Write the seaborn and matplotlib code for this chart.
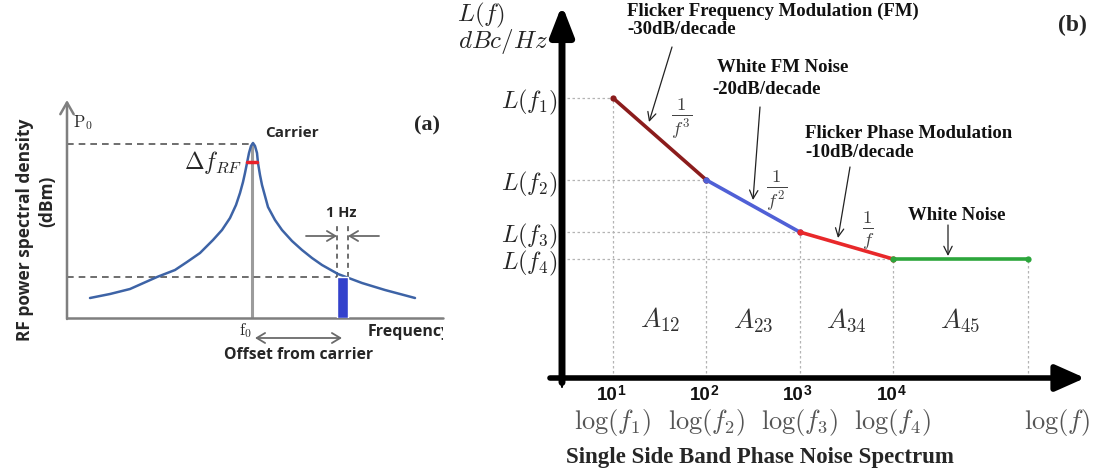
import numpy as np
import pandas as pd
import matplotlib
matplotlib.use("Agg")
import matplotlib.pyplot as plt
import seaborn as sns
from matplotlib.transforms import Bbox, TransformedBbox, IdentityTransform, offset_copy
from matplotlib.ticker import NullLocator

# ---------------- data: panel (a) RF spectrum ----------------
offset_left = [23, 43, 63, 90, 108, 120, 133, 146, 155, 163, 169, 173, 176, 178,
               180, 182, 184]
psd_left = [20, 24, 29, 41, 48, 56, 65, 78, 88, 100, 113, 125, 136, 145, 155,
            165, 172]
offset_right = [186, 188, 190, 191, 193, 195, 198, 201, 208, 215, 225, 235, 245,
                255, 271, 295, 318, 348]
psd_right = [175, 172, 165, 155, 143, 133, 122, 111, 98, 88, 77, 68, 60, 53, 44,
             35, 28, 20]
carrier_offset = 185
carrier_level = 174
bin_offset = 270
bin_width = 11
bin_level = 41
linewidth_level = 156
linewidth_span = [180, 190]

# ---------------- data: panel (b) SSB phase noise ----------------
freqs = [10, 100, 1000, 10000, 280000]
levels = [280, 198, 146, 119, 119]
seg_names = ["Flicker FM", "White FM", "Flicker PM", "White"]
seg_colors = ["#8b1c1c", "#5060d6", "#e8282a", "#2ca63c"]
xtick_base = ["10", "10", "10", "10"]
xtick_exp = ["1", "2", "3", "4"]
log_labels = [r"$\log(f_1)$", r"$\log(f_2)$", r"$\log(f_3)$", r"$\log(f_4)$"]
level_labels = [r"$L(f_1)$", r"$L(f_2)$", r"$L(f_3)$", r"$L(f_4)$"]
area_labels = [r"$A_{12}$", r"$A_{23}$", r"$A_{34}$", r"$A_{45}$"]
area_level = 58

sns.set_theme(style="white")
plt.rcParams["font.family"] = ["DejaVu Sans"]
plt.rcParams["mathtext.fontset"] = "cm"

W, H = 1099, 475
fig = plt.figure(figsize=(W / 100, H / 100), dpi=100)
fig.patch.set_facecolor("white")


def fx(px):
    return px / W


def fy(py):
    return 1 - py / H


SANS_B = dict(family="Open Sans", weight="bold")
SERIF_B = dict(family="Liberation Serif", weight="bold")

# ======================= panel (a) =======================
ax_a = fig.add_axes([fx(67), fy(318), fx(443) - fx(67), fy(100) - fy(318)])
ax_a.set_xlim(0, 376)
ax_a.set_ylim(0, 218)
ax_a.axis("off")

df_a = pd.DataFrame({"offset": offset_left + offset_right,
                     "psd": psd_left + psd_right})
ax_a.plot([carrier_offset, carrier_offset], [0, carrier_level], color="#9c9c9c",
          lw=2.2, zorder=1)
sns.lineplot(data=df_a, x="offset", y="psd", ax=ax_a, color="#3d63a6", lw=1.8,
             zorder=3)
gray = "#7f7f7f"
ax_a.plot([0, 376], [0, 0], color=gray, lw=1.8, clip_on=False, zorder=2)
ax_a.annotate("", xy=(0, 218), xytext=(0, -1),
              arrowprops=dict(arrowstyle="->,head_length=0.7,head_width=0.4",
                              color=gray, lw=1.8, shrinkA=0, shrinkB=0),
              annotation_clip=False)
dash = (0, (4, 3))
ax_a.plot([0, carrier_offset], [carrier_level, carrier_level], ls=dash,
          color="#555555", lw=1.2, zorder=1)
ax_a.plot([0, bin_offset], [bin_level, bin_level], ls=dash, color="#555555",
          lw=1.2, zorder=1)
for xv in [bin_offset, bin_offset + bin_width]:
    ax_a.plot([xv, xv], [bin_level, 93], ls=(0, (3, 2.5)), color="#555555",
              lw=1.2, zorder=1)
ax_a.bar(bin_offset, bin_level, width=bin_width, align="edge", color="#3341cc",
         zorder=4)
ax_a.plot(linewidth_span, [linewidth_level, linewidth_level], color="#e8202a",
          lw=2.5, zorder=5)
ap = dict(arrowstyle="->,head_length=0.5,head_width=0.3", color="#6a6a6a",
          lw=1.3, shrinkA=0, shrinkB=0)
ax_a.annotate("", xy=(bin_offset, 82), xytext=(239, 82), arrowprops=ap)
ax_a.annotate("", xy=(bin_offset + bin_width, 82), xytext=(312, 82),
              arrowprops=ap)
ax_a.annotate("", xy=(275, -20), xytext=(188, -20),
              arrowprops=dict(arrowstyle="<->,head_length=0.5,head_width=0.3",
                              color="#6a6a6a", lw=1.3, shrinkA=0, shrinkB=0),
              annotation_clip=False)

fig.text(fx(73), fy(123), r"$\mathrm{P_0}$", fontsize=12, ha="left", va="center")
fig.text(fx(292), fy(133), "Carrier", fontsize=11, ha="center", va="center",
         **SANS_B)
fig.text(fx(427), fy(125), "(a)", fontsize=16, ha="center", va="center",
         **SERIF_B)
fig.text(fx(242), fy(163), r"$\Delta f_{RF}$", fontsize=17, ha="right",
         va="center")
fig.text(fx(341), fy(213), "1 Hz", fontsize=10.5, ha="center", va="center",
         **SANS_B)
fig.text(fx(246), fy(331), r"$\mathrm{f_0}$", fontsize=12, ha="center",
         va="center")
fig.text(fx(299), fy(355), "Offset from carrier", fontsize=11.3, ha="center",
         va="center", **SANS_B)
t = fig.text(fx(368), fy(332), "Frequency", fontsize=11.5, ha="left",
             va="center", **SANS_B)
t.set_clip_box(TransformedBbox(Bbox([[0, 0], [443, H]]), IdentityTransform()))
t.set_clip_on(True)
fig.text(fx(25), fy(230), "RF power spectral density", rotation=90,
         fontsize=12.5, ha="center", va="center", **SANS_B)
fig.text(fx(47), fy(201), "(dBm)", rotation=90, fontsize=12.5, ha="center",
         va="center", **SANS_B)

# ======================= panel (b) =======================
ax_b = fig.add_axes([fx(562), fy(378), fx(1085) - fx(562), fy(5) - fy(378)])
ax_b.set_xscale("log")
xmin, xmax = 10 ** 0.4536, 10 ** 6.057
ax_b.set_xlim(xmin, xmax)
ax_b.set_ylim(0, 373)
for s in ax_b.spines.values():
    s.set_visible(False)
ax_b.set_facecolor("none")

rows = []
for i, name in enumerate(seg_names):
    rows.append((name, freqs[i], levels[i]))
    rows.append((name, freqs[i + 1], levels[i + 1]))
df_b = pd.DataFrame(rows, columns=["segment", "freq", "level"])

guide = dict(color="#b4b4b4", lw=0.9, ls=(0, (2, 2)), zorder=1)
for i in range(4):
    ax_b.plot([xmin, freqs[i]], [levels[i], levels[i]], **guide)
for i in range(5):
    ax_b.plot([freqs[i], freqs[i]], [0, levels[i]], **guide)

sns.lineplot(data=df_b, x="freq", y="level", hue="segment",
             palette=dict(zip(seg_names, seg_colors)), ax=ax_b, lw=2.6,
             marker="o", markersize=4.5, markeredgewidth=0, legend=False,
             sort=False, estimator=None, zorder=3)

ax_b.set_yticks(levels[:4])
ax_b.set_yticklabels(level_labels, fontsize=17.5)
ax_b.set_xticks(freqs[:4])
ax_b.set_xticklabels([])
ax_b.xaxis.set_minor_locator(NullLocator())
ax_b.tick_params(axis="y", length=0, pad=3)
ax_b.tick_params(axis="x", length=0)
ax_b.set_xlabel("")
ax_b.set_ylabel("")

# tick labels 10^n
xt = ax_b.get_xaxis_transform()
for f, b, e in zip(freqs[:4], xtick_base, xtick_exp):
    ax_b.text(f, -0.046, b,
              transform=offset_copy(xt, fig=fig, x=3, y=0, units="points"),
              fontsize=13.5, ha="right", va="center", family="Liberation Sans",
              weight="bold", color="#111111")
    ax_b.text(f, -0.036, e,
              transform=offset_copy(xt, fig=fig, x=3.2, y=0, units="points"),
              fontsize=10, ha="left", va="center", family="Liberation Sans",
              weight="bold", color="#111111")

# thick axes with arrowheads
ax_b.annotate("", xy=(1.0, 0), xytext=(-0.023, 0), xycoords="axes fraction",
              arrowprops=dict(arrowstyle="-|>,head_length=0.9,head_width=0.4",
                              mutation_scale=20, color="black", lw=4,
                              shrinkA=0, shrinkB=0), annotation_clip=False)
ax_b.annotate("", xy=(0, 1.0), xytext=(0, -0.012), xycoords="axes fraction",
              arrowprops=dict(arrowstyle="-|>,head_length=0.9,head_width=0.35",
                              mutation_scale=20, color="black", lw=5,
                              shrinkA=0, shrinkB=0), annotation_clip=False)
ax_b.plot([0, 0], [0, -0.025], transform=ax_b.transAxes, color="black", lw=1.5,
          clip_on=False)

for f, lab in zip(freqs[:4], log_labels):
    ax_b.text(f, -0.118, lab, transform=xt, fontsize=19, ha="center",
              va="center", color="#555555")
ax_b.text(0.946, -0.118, r"$\log(f)$", transform=ax_b.transAxes, fontsize=19,
          ha="center", va="center", color="#555555")

for i, lab in enumerate(area_labels):
    xc = np.sqrt(freqs[i] * freqs[i + 1])
    ax_b.text(xc, area_level, lab, fontsize=19.5, ha="center", va="center",
              color="#333333")

fig.text(fx(481), fy(15), r"$L(f)$", fontsize=18, ha="center", va="center")
fig.text(fx(548), fy(42), r"$dBc/Hz$", fontsize=18, ha="right", va="center")
fig.text(fx(1072), fy(25), "(b)", fontsize=17, ha="center", va="center",
         **SERIF_B)
fig.text(fx(760), fy(457), "Single Side Band Phase Noise Spectrum",
         fontsize=16.5, ha="center", va="center", **SERIF_B)

# annotations
TXT = dict(fontsize=13.5, ha="left", va="center", color="#111111", **SERIF_B)
fig.text(fx(627), fy(11), "Flicker Frequency Modulation (FM)", **TXT)
fig.text(fx(627), fy(30), "-30dB/decade", **TXT)
fig.text(fx(717), fy(68), "White FM Noise", **TXT)
fig.text(fx(712), fy(90), "-20dB/decade", **TXT)
fig.text(fx(805), fy(134), "Flicker Phase Modulation", **TXT)
fig.text(fx(805), fy(153), "-10dB/decade", **TXT)
fig.text(fx(957), fy(215), "White Noise", fontsize=13.5, ha="center",
         va="center", color="#111111", **SERIF_B)

aps = dict(arrowstyle="->,head_length=0.6,head_width=0.3", color="#222222",
           lw=0.9, shrinkA=0, shrinkB=0)
for (x0, y0, x1, y1) in [(672, 47, 649, 122), (760, 107, 753, 200),
                         (850, 167, 838, 238), (948, 225, 948, 256)]:
    fig.add_artist(matplotlib.patches.FancyArrowPatch(
        (fx(x0), fy(y0)), (fx(x1), fy(y1)), transform=fig.transFigure,
        mutation_scale=10, **aps))

FR = dict(fontsize=19, ha="center", va="center", color="#444444")
fig.text(fx(682), fy(119), r"$\frac{1}{f^3}$", **FR)
fig.text(fx(777), fy(191), r"$\frac{1}{f^2}$", **FR)
fig.text(fx(868), fy(231), r"$\frac{1}{f}$", **FR)

fig.savefig("out.png", dpi=100, facecolor="white")
